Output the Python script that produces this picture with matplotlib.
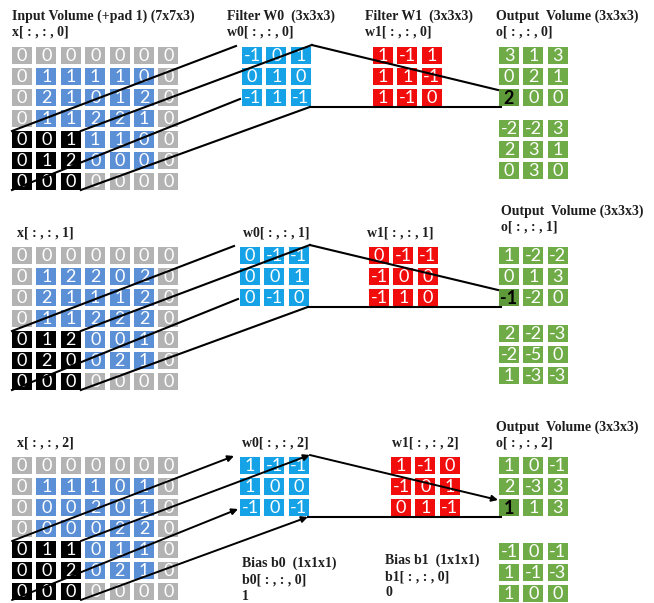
import numpy as np
import matplotlib.pyplot as plt
from matplotlib.patches import Rectangle

# input volume slices (padded 7x7)
x_0 = [[0, 0, 0, 0, 0, 0, 0],
       [0, 1, 1, 1, 1, 0, 0],
       [0, 2, 1, 0, 1, 2, 0],
       [0, 1, 1, 2, 2, 1, 0],
       [0, 0, 1, 1, 1, 0, 0],
       [0, 1, 2, 0, 0, 0, 0],
       [0, 0, 0, 0, 0, 0, 0]]
x_1 = [[0, 0, 0, 0, 0, 0, 0],
       [0, 1, 2, 2, 0, 2, 0],
       [0, 2, 1, 1, 1, 2, 0],
       [0, 1, 1, 2, 2, 2, 0],
       [0, 1, 2, 0, 0, 1, 0],
       [0, 2, 0, 0, 2, 1, 0],
       [0, 0, 0, 0, 0, 0, 0]]
x_2 = [[0, 0, 0, 0, 0, 0, 0],
       [0, 1, 1, 1, 0, 1, 0],
       [0, 0, 0, 2, 0, 1, 0],
       [0, 0, 0, 0, 2, 2, 0],
       [0, 1, 1, 0, 1, 1, 0],
       [0, 0, 2, 0, 2, 1, 0],
       [0, 0, 0, 0, 0, 0, 0]]

# filter W0
w0_0 = [[-1, 0, 1], [0, 1, 0], [-1, 1, -1]]
w0_1 = [[0, -1, -1], [0, 0, 1], [0, -1, 0]]
w0_2 = [[1, -1, -1], [1, 0, 0], [-1, 0, -1]]

# filter W1
w1_0 = [[1, -1, 1], [1, 1, -1], [1, -1, 0]]
w1_1 = [[0, -1, -1], [-1, 0, 0], [-1, 1, 0]]
w1_2 = [[1, -1, 0], [-1, 0, 1], [0, 1, -1]]

# output volumes shown in each panel (upper and lower block)
out_top_0 = [[3, 1, 3], [0, 2, 1], [2, 0, 0]]
out_bot_0 = [[-2, -2, 3], [2, 3, 1], [0, 3, 0]]
out_top_1 = [[1, -2, -2], [0, 1, 3], [-1, -2, 0]]
out_bot_1 = [[2, -2, -3], [-2, -5, 0], [1, -3, -3]]
out_top_2 = [[1, 0, -1], [2, -3, 3], [1, 1, 3]]
out_bot_2 = [[-1, 0, -1], [1, -1, -3], [1, 0, 0]]

b0 = 1
b1 = 0

GRAY = '#b3b3b3'
INBLUE = '#5b8fd6'
FBLUE = '#16a2e6'
RED = '#f20d0d'
GREEN = '#6fab46'
GREEN_HL = '#5e9a3a'

CW, CH = 20, 17      # cell size (px)
PX, PY = 24.4, 21    # cell pitch (px)

NUMFONT = dict(family='Lato', fontsize=13)
TITLEFONT = dict(family='Liberation Serif', fontsize=10, fontweight='bold')

fig = plt.figure(figsize=(6.54, 6.03), dpi=100)
ax = fig.add_axes([0, 0, 1, 1])
ax.set_xlim(0, 654)
ax.set_ylim(603, 0)
ax.axis('off')


def draw_grid(vals, gx, gy, color, kind=None, hl=None):
    vals = np.array(vals)
    n, m = vals.shape
    for r in range(n):
        for c in range(m):
            fc = color
            tc = 'white'
            weight = 'normal'
            if kind == 'input':
                if r >= 4 and c <= 2:
                    fc = 'black'
                elif r in (0, n - 1) or c in (0, m - 1):
                    fc = GRAY
            if hl is not None and (r, c) == hl:
                fc = GREEN_HL
                tc = 'black'
                weight = 'bold'
            x = gx + c * PX
            y = gy + r * PY
            ax.add_patch(Rectangle((x, y), CW, CH, facecolor=fc, edgecolor='none', zorder=1))
            ax.text(x + CW / 2, y + CH / 2 + 0.5, str(vals[r, c]), color=tc,
                    ha='center', va='center', fontweight=weight, zorder=2, **NUMFONT)


def corners(gx, gy, rows, cols):
    x1 = gx + (cols - 1) * PX + CW
    y1 = gy + (rows - 1) * PY + CH
    return (gx, gy), (x1, gy), (gx, y1), (x1, y1)


def title(x, y, s):
    ax.text(x, y, s, ha='left', va='center', color='#1e1e1e', **TITLEFONT)


def connect(in_xy, f_xy, o_xy, arrows=False):
    # receptive field (black cells) in the input
    ix, iy = in_xy
    src = corners(ix, iy + 4 * PY, 3, 3)
    fx, fy = f_xy
    (ftl, ftr, fbl, fbr) = corners(fx, fy, 3, 3)
    dst = [(ftl[0] - 6, ftl[1] - 1), (ftr[0] + 1, ftr[1] - 2),
           (fbl[0] - 2, fbl[1] - 7), (fbr[0] - 1, fbr[1] + 1)]
    ox, oy = o_xy
    cell_tl = (ox - 1, oy + 2 * PY + 1)
    cell_bl = (ox + 2, oy + 2 * PY + CH + 1)
    segs = list(zip(src, dst)) + [(dst[1], cell_tl)]
    for a, b in segs:
        if arrows:
            ax.annotate('', xy=b, xytext=a,
                        arrowprops=dict(arrowstyle='-|>', color='black', lw=1.4,
                                        mutation_scale=9, shrinkA=0, shrinkB=0), zorder=3)
        else:
            ax.plot([a[0], b[0]], [a[1], b[1]], color='black', lw=1.5, zorder=3)
    ax.plot([dst[3][0], cell_bl[0]], [dst[3][1], cell_bl[1]], color='black', lw=1.5, zorder=3)


# ---- panel 1 ----
title(12, 16, 'Input Volume (+pad 1) (7x7x3)')
title(12, 32, 'x[ : , : , 0]')
title(227, 16, 'Filter W0  (3x3x3)')
title(227, 32, 'w0[ : , : , 0]')
title(365, 16, 'Filter W1  (3x3x3)')
title(365, 32, 'w1[ : , : , 0]')
title(496, 16, 'Output  Volume (3x3x3)')
title(496, 32, 'o[ : , : , 0]')
draw_grid(x_0, 12, 47, INBLUE, kind='input')
draw_grid(w0_0, 242, 47, FBLUE)
draw_grid(w1_0, 373, 47, RED)
draw_grid(out_top_0, 499, 47, GREEN, hl=(2, 0))
draw_grid(out_bot_0, 499, 120, GREEN)
connect((12, 47), (242, 47), (499, 47))

# ---- panel 2 ----
title(17, 233, 'x[ : , : , 1]')
title(243, 233, 'w0[ : , : , 1]')
title(367, 233, 'w1[ : , : , 1]')
title(501, 211, 'Output  Volume (3x3x3)')
title(501, 227, 'o[ : , : , 1]')
draw_grid(x_1, 12, 247, INBLUE, kind='input')
draw_grid(w0_1, 240, 247, FBLUE)
draw_grid(w1_1, 369, 247, RED)
draw_grid(out_top_1, 499, 247, GREEN, hl=(2, 0))
draw_grid(out_bot_1, 499, 325, GREEN)
connect((12, 247), (240, 247), (499, 247))

# ---- panel 3 ----
title(17, 443, 'x[ : , : , 2]')
title(242, 443, 'w0[ : , : , 2]')
title(392, 443, 'w1[ : , : , 2]')
title(496, 427, 'Output  Volume (3x3x3)')
title(496, 443, 'o[ : , : , 2]')
draw_grid(x_2, 12, 457, INBLUE, kind='input')
draw_grid(w0_2, 240, 457, FBLUE)
draw_grid(w1_2, 391, 457, RED)
draw_grid(out_top_2, 499, 457, GREEN, hl=(2, 0))
draw_grid(out_bot_2, 499, 543, GREEN)
connect((12, 457), (240, 457), (499, 457), arrows=True)

title(242, 563, 'Bias b0  (1x1x1)')
title(242, 580, 'b0[ : , : , 0]')
title(242, 596, str(b0))
title(385, 560, 'Bias b1  (1x1x1)')
title(385, 577, 'b1[ : , : , 0]')
title(385, 593, str(b1))

fig.savefig('out.png', dpi=100)
